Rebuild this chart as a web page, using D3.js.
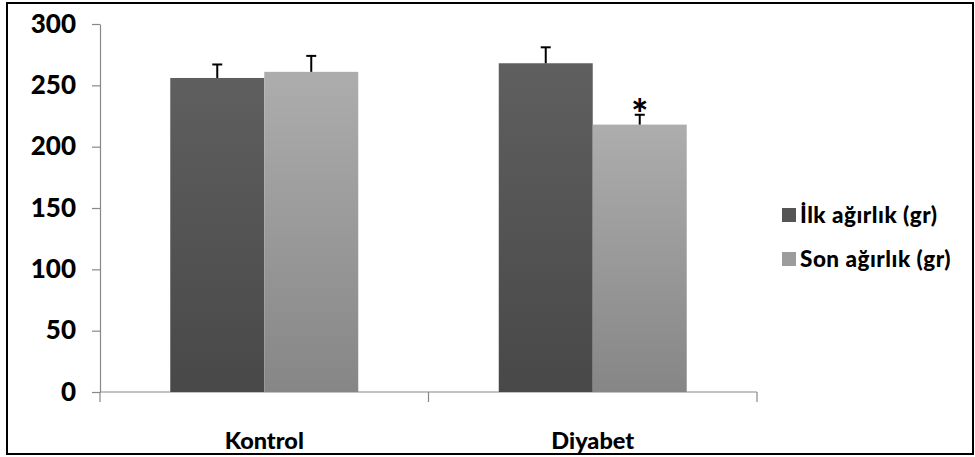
<!DOCTYPE html>
<html>
<head>
<meta charset="utf-8">
<script src="https://cdn.jsdelivr.net/npm/d3@7"></script>
<style>
  html, body { margin: 0; padding: 0; background: #fff; }
  svg { display: block; }
  text { font-family: Lato, "Open Sans", sans-serif; font-weight: 900; fill: #000; }
</style>
</head>
<body>
<svg id="chart" width="975" height="457"></svg>
<script>
// Body weight (g) at start and end of the study, per group
const groups = ["Kontrol", "Diyabet"];
const seriesNames = ["İlk ağırlık (gr)", "Son ağırlık (gr)"];
const initialWeight = [256, 268];
const finalWeight = [261, 218];
const initialErr = [11, 13];
const finalErr = [13, 8];
const significant = [[false, false], [false, true]];
const yTicks = [0, 50, 100, 150, 200, 250, 300];

const svg = d3.select("#chart");
const FONT = "Lato, 'Open Sans', sans-serif";

// outer frame
svg.append("rect")
  .attr("x", 7).attr("y", 3).attr("width", 966).attr("height", 451)
  .attr("fill", "#fff").attr("stroke", "#000").attr("stroke-width", 2);

const plot = { left: 100, right: 757, top: 24, bottom: 392 };

const y = d3.scaleLinear().domain([0, 300]).range([plot.bottom, plot.top]);
const x0 = d3.scaleBand().domain(groups).range([plot.left, plot.right])
  .paddingInner(0.4277).paddingOuter(0.2139);
const x1 = d3.scaleBand().domain([0, 1]).range([0, x0.bandwidth()]);

// vertical gradients for the two series
const defs = svg.append("defs");
const grads = [
  { id: "g0", top: "#5f5f5f", bottom: "#484848" },
  { id: "g1", top: "#adadad", bottom: "#868686" }
];
grads.forEach(g => {
  const lg = defs.append("linearGradient").attr("id", g.id)
    .attr("x1", 0).attr("y1", 0).attr("x2", 0).attr("y2", 1);
  lg.append("stop").attr("offset", "0%").attr("stop-color", g.top);
  lg.append("stop").attr("offset", "100%").attr("stop-color", g.bottom);
});

// y axis
const yAxis = svg.append("g")
  .attr("transform", `translate(${plot.left},0)`)
  .call(d3.axisLeft(y).tickValues(yTicks).tickSize(8).tickPadding(16).tickSizeOuter(0));
yAxis.select(".domain").attr("stroke", "#888").attr("stroke-width", 1.2);
yAxis.selectAll(".tick line").attr("stroke", "#888").attr("stroke-width", 1.2);
yAxis.selectAll(".tick text")
  .style("font-family", FONT).style("font-weight", "900")
  .style("font-size", "26px").attr("fill", "#000");

// x axis
const xAxis = svg.append("g")
  .attr("transform", `translate(0,${plot.bottom})`)
  .call(d3.axisBottom(x0).tickSize(0).tickPadding(0));
xAxis.select(".domain").remove();
xAxis.append("line")
  .attr("x1", plot.left).attr("x2", plot.right).attr("y1", 0).attr("y2", 0)
  .attr("stroke", "#888").attr("stroke-width", 1.2);
// category boundary ticks
[plot.left, (plot.left + plot.right) / 2, plot.right].forEach(tx => {
  xAxis.append("line").attr("x1", tx).attr("x2", tx).attr("y1", 0).attr("y2", 10)
    .attr("stroke", "#888").attr("stroke-width", 1.2);
});
xAxis.selectAll(".tick text")
  .style("font-family", FONT).style("font-weight", "900")
  .style("font-size", "23.5px").attr("fill", "#000")
  .attr("y", 57).attr("dy", null);

// bars
const data = [];
groups.forEach((g, gi) => {
  [initialWeight, finalWeight].forEach((arr, si) => {
    data.push({ g, si, v: arr[gi], e: (si === 0 ? initialErr : finalErr)[gi], sig: significant[gi][si] });
  });
});

svg.append("g").selectAll("rect").data(data).join("rect")
  .attr("x", d => x0(d.g) + x1(d.si))
  .attr("y", d => y(d.v))
  .attr("width", x1.bandwidth())
  .attr("height", d => y(0) - y(d.v))
  .attr("fill", d => `url(#g${d.si})`);

// error bars (upper half only)
const eb = svg.append("g").attr("stroke", "#000").attr("stroke-width", 2);
data.forEach(d => {
  const cx = x0(d.g) + x1(d.si) + x1.bandwidth() / 2;
  eb.append("line").attr("x1", cx).attr("x2", cx).attr("y1", y(d.v)).attr("y2", y(d.v + d.e));
  eb.append("line").attr("x1", cx - 5).attr("x2", cx + 5).attr("y1", y(d.v + d.e)).attr("y2", y(d.v + d.e));
});

// significance marker
svg.append("g").selectAll("text").data(data.filter(d => d.sig)).join("text")
  .attr("x", d => x0(d.g) + x1(d.si) + x1.bandwidth() / 2)
  .attr("y", d => y(d.v + d.e) + 14)
  .attr("text-anchor", "middle")
  .style("font-family", FONT).style("font-weight", "900")
  .style("font-size", "40px")
  .text("*");

// legend
const legend = svg.append("g").attr("transform", "translate(782,208)");
const legendFill = ["#555555", "#9c9c9c"];
seriesNames.forEach((name, i) => {
  const row = legend.append("g").attr("transform", `translate(0,${i * 44})`);
  row.append("rect").attr("width", 14).attr("height", 14).attr("fill", legendFill[i]);
  row.append("text").attr("x", 18).attr("y", 7).attr("dy", "0.36em")
    .style("font-size", "22.5px").style("letter-spacing", "0.5px").text(name);
});
</script>
</body>
</html>
